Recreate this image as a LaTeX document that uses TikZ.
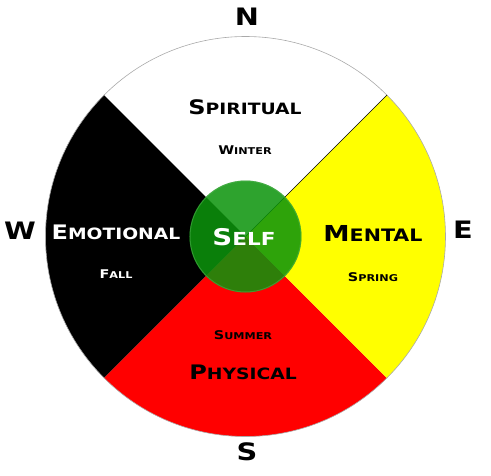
\documentclass[tikz,border=0pt]{standalone}
\usepackage{fontspec}
\usepackage{graphicx}
\usetikzlibrary{positioning}
\newfontfamily\cgfont{DejaVu Sans}[FakeStretch=1.2]
\newcommand\smcap[2]{#1\scalebox{0.78}{#2}}
\definecolor{selfgreen}{RGB}{12,148,12}
\definecolor{rimgray}{RGB}{170,170,170}
\definecolor{eastyellow}{RGB}{255,255,0}
\definecolor{southred}{RGB}{255,0,0}
\tikzset{
  quarter/.style={font=\cgfont\bfseries\fontsize{#1}{#1}\selectfont,inner sep=0pt},
  quarter/.default=20,
  season/.style={font=\cgfont\bfseries\fontsize{12}{12}\selectfont,inner sep=0pt},
  compass/.style={font=\cgfont\bfseries\fontsize{24}{24}\selectfont,inner sep=0pt},
}
\begin{document}
\begin{tikzpicture}[x=1pt,y=1pt]
  \useasboundingbox (-245.5,-238.5) rectangle (245.5,236.5);

  % the four quarters
  \fill[white]      (0,0) -- (45:200)  arc[start angle=45,end angle=135,radius=200] -- cycle;
  \fill[black]      (0,0) -- (135:200) arc[start angle=135,end angle=225,radius=200] -- cycle;
  \fill[southred]   (0,0) -- (225:200) arc[start angle=225,end angle=315,radius=200] -- cycle;
  \fill[eastyellow] (0,0) -- (-45:200) arc[start angle=-45,end angle=45,radius=200] -- cycle;
  \draw[rimgray,line width=0.6pt] (0,0) circle[radius=200];
  \draw[black,line width=0.5pt] (0,0) -- (45:200);

  % self in the middle
  \fill[selfgreen,opacity=0.86] (0,0) circle[radius=56];
  \draw[selfgreen!70!white,opacity=0.5,line width=1pt] (0,0) circle[radius=55.5];
  \node[quarter=23,text=white] (self) at (-1.5,-0.5) {\smcap{S}{ELF}};

  \node[quarter] (spiritual) at (-0.5,129.5) {\smcap{S}{PIRITUAL}};
  \node[season, below=31pt of spiritual] (winter) {\smcap{W}{INTER}};

  \node[quarter,text=white] (emotional) at (-129.5,4.5) {\smcap{E}{MOTIONAL}};
  \node[season,text=white, below=30pt of emotional] (fall) {\smcap{F}{ALL}};

  \node[quarter=22] (mental) at (127.5,3.5) {\smcap{M}{ENTAL}};
  \node[season, below=31pt of mental] (spring) {\smcap{S}{PRING}};

  \node[quarter] (physical) at (-2.5,-135.5) {\smcap{P}{HYSICAL}};
  \node[season, above=25pt of physical] (summer) {\smcap{S}{UMMER}};

  % compass points
  \node[compass] (north) at (1.5,219.5) {N};
  \node[compass] (south) at (1.5,-215.5) {S};
  \node[compass] (west) at (-225.5,5.5) {W};
  \node[compass] (east) at (217.5,6.5) {E};
\end{tikzpicture}
\end{document}
